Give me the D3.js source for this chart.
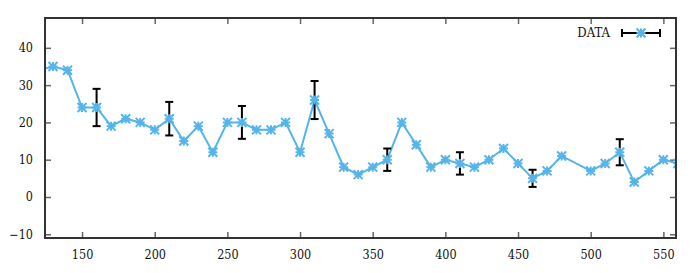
<!DOCTYPE html>
<html>
<head>
<meta charset="utf-8">
<script src="https://cdn.jsdelivr.net/npm/d3@7"></script>
<style>
  body { margin: 0; background: #fff; }
</style>
</head>
<body>
<svg id="chart" width="700" height="273"></svg>
<script>
// data
var xs = [120,130,140,150,160,170,180,190,200,210,220,230,240,250,260,270,280,290,300,310,
          320,330,340,350,360,370,380,390,400,410,420,430,440,450,460,470,480,500,510,520,530,540,550,560];
var ys = [34,35,34,24,24,19,21,20,18,21,15,19,12,20,20,18,18,20,12,26,
          17,8,6,8,10,20,14,8,10,9,8,10,13,9,5,7,11,7,9,12,4,7,10,9];
// error bars only on some points
var errX = [160,210,260,310,360,410,460,520];
var errY = [24,21,20,26,10,9,5,12];
var errD = [5,4.5,4.4,5.1,3,3,2.3,3.5];
var xTicks = [150,200,250,300,350,400,450,500,550];
var yTicks = [-10,0,10,20,30,40];

var L=45, R=676, T=18, B=238;
var blue="#56b4e9";
var serif="'DejaVu Serif Condensed', 'DejaVu Serif'";

var svg=d3.select("#chart");
var x=d3.scaleLinear().domain([124.5,558.7]).range([L,R]);
var y=d3.scaleLinear().domain([-11,48]).range([B,T]);

svg.append("clipPath").attr("id","clip")
  .append("rect").attr("x",L).attr("y",T).attr("width",R-L).attr("height",B-T);

// axes, ticks inward, mirrored
var tk=6;
svg.append("g").attr("transform","translate(0,"+B+")")
  .call(d3.axisBottom(x).tickValues(xTicks).tickSize(-tk).tickPadding(tk+6));
svg.append("g").attr("transform","translate(0,"+T+")")
  .call(d3.axisTop(x).tickValues(xTicks).tickSize(-tk).tickFormat(""));
svg.append("g").attr("transform","translate("+L+",0)")
  .call(d3.axisLeft(y).tickValues(yTicks).tickSize(-tk).tickPadding(tk+6));
svg.append("g").attr("transform","translate("+R+",0)")
  .call(d3.axisRight(y).tickValues(yTicks).tickSize(-tk).tickFormat(""));
svg.selectAll(".domain").remove();
svg.selectAll(".tick line").attr("stroke","#666").attr("stroke-width",1.5);
svg.selectAll(".tick text").style("font-family",serif).style("font-size","12.5px").attr("fill","#111");

var plot=svg.append("g").attr("clip-path","url(#clip)");
var pts=xs.map(function(v,i){return [v,ys[i]];});

plot.append("path").datum(pts)
  .attr("fill","none").attr("stroke",blue).attr("stroke-width",2)
  .attr("d",d3.line().x(function(d){return x(d[0]);}).y(function(d){return y(d[1]);}));

// error bars
var cw=4;
errX.forEach(function(v,i){
  var g=plot.append("g").attr("stroke","#000").attr("stroke-width",2);
  var px=x(v), y1=y(errY[i]+errD[i]), y2=y(errY[i]-errD[i]);
  g.append("line").attr("x1",px).attr("x2",px).attr("y1",y1).attr("y2",y2);
  g.append("line").attr("x1",px-cw).attr("x2",px+cw).attr("y1",y1).attr("y2",y1);
  g.append("line").attr("x1",px-cw).attr("x2",px+cw).attr("y1",y2).attr("y2",y2);
});

function star(g,cx,cy){
  var s=4.5;
  g.append("path")
    .attr("d","M"+(cx-s)+","+cy+"H"+(cx+s)+"M"+cx+","+(cy-s)+"V"+(cy+s)+
              "M"+(cx-s)+","+(cy-s)+"L"+(cx+s)+","+(cy+s)+"M"+(cx-s)+","+(cy+s)+"L"+(cx+s)+","+(cy-s))
    .attr("stroke",blue).attr("stroke-width",2).attr("fill","none");
}
pts.forEach(function(d){ star(plot,x(d[0]),y(d[1])); });

// frame
svg.append("rect").attr("x",L).attr("y",T).attr("width",R-L).attr("height",B-T)
  .attr("fill","none").attr("stroke","#333").attr("stroke-width",2);

// legend
var ly=33;
svg.append("text").attr("x",610).attr("y",ly+4).attr("text-anchor","end")
  .style("font-family",serif).style("font-size","13px").attr("fill","#111").text("DATA");
var lg=svg.append("g").attr("stroke","#000").attr("stroke-width",2);
lg.append("line").attr("x1",622).attr("x2",660).attr("y1",ly).attr("y2",ly);
lg.append("line").attr("x1",622).attr("x2",622).attr("y1",ly-cw).attr("y2",ly+cw);
lg.append("line").attr("x1",660).attr("x2",660).attr("y1",ly-cw).attr("y2",ly+cw);
star(svg,641,ly);
</script>
</body>
</html>
